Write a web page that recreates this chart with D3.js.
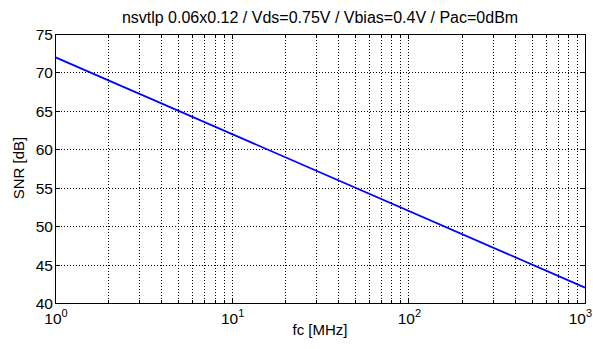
<!DOCTYPE html>
<html><head><meta charset="utf-8">
<script src="https://cdn.jsdelivr.net/npm/d3@7"></script>
<style>
body{margin:0;background:#fff;}
text{font-family:"Liberation Sans",Arial,sans-serif;fill:#000;}
</style></head>
<body><svg id="c" width="593" height="349"></svg>
<script>
const title = "nsvtlp 0.06x0.12 / Vds=0.75V / Vbias=0.4V / Pac=0dBm";
const xLabel = "fc [MHz]";
const yLabel = "SNR [dB]";
const fc = [1, 1000];
const snr = [72, 42];
const xMajor = [1, 10, 100, 1000];
const xExp = [0, 1, 2, 3];
const yTicks = [40, 45, 50, 55, 60, 65, 70, 75];

const W = 593, H = 349;
const m = {l:55, r:585, t:34, b:303};
const svg = d3.select("#c");
svg.append("rect").attr("width",W).attr("height",H).attr("fill","#fff");

const x = d3.scaleLog().domain([1,1000]).range([m.l, m.r]);
const y = d3.scaleLinear().domain([40,75]).range([m.b, m.t]);

const minor = [];
for (let d=1; d<1000; d*=10) for (let k=2;k<=9;k++) minor.push(d*k);
const allX = xMajor.concat(minor);

const g = svg.append("g");
// grid
g.selectAll(".gx").data(allX.filter(v=>v>1&&v<1000)).enter().append("line")
  .attr("x1",d=>Math.round(x(d))+0.5).attr("x2",d=>Math.round(x(d))+0.5)
  .attr("y1",m.t).attr("y2",m.b)
  .attr("stroke","#000").attr("stroke-width",1).attr("stroke-dasharray","1,2");
g.selectAll(".gy").data(yTicks.filter(v=>v>40&&v<75)).enter().append("line")
  .attr("y1",d=>Math.round(y(d))+0.5).attr("y2",d=>Math.round(y(d))+0.5)
  .attr("x1",m.l).attr("x2",m.r)
  .attr("stroke","#000").attr("stroke-width",1).attr("stroke-dasharray","1,2");

// ticks inward on all sides
const tick = (v, len) => {
  const px = Math.round(x(v))+0.5;
  g.append("line").attr("x1",px).attr("x2",px).attr("y1",m.b).attr("y2",m.b-len).attr("stroke","#000");
  g.append("line").attr("x1",px).attr("x2",px).attr("y1",m.t).attr("y2",m.t+len).attr("stroke","#000");
};
xMajor.forEach(v=>tick(v,5));
minor.forEach(v=>tick(v,3));
yTicks.forEach(v=>{
  const py = Math.round(y(v))+0.5;
  g.append("line").attr("x1",m.l).attr("x2",m.l+5).attr("y1",py).attr("y2",py).attr("stroke","#000");
  g.append("line").attr("x1",m.r).attr("x2",m.r-5).attr("y1",py).attr("y2",py).attr("stroke","#000");
});

// box
g.append("rect").attr("x",m.l+0.5).attr("y",m.t+0.5).attr("width",m.r-m.l).attr("height",m.b-m.t)
  .attr("fill","none").attr("stroke","#000").attr("stroke-width",1);

// line
const line = d3.line().x((d,i)=>x(fc[i])).y(d=>y(d));
g.append("path").datum(snr).attr("d",line).attr("fill","none").attr("stroke","#0000ff").attr("stroke-width",1.8);

// y labels
yTicks.forEach(v=>{
  g.append("text").attr("x",m.l-2).attr("y",y(v)+6).attr("text-anchor","end")
    .attr("font-size",15.5).text(v);
});
// x labels
xMajor.forEach((v,i)=>{
  const t = g.append("text").attr("x",x(v)+1).attr("y",m.b+21).attr("text-anchor","middle").attr("font-size",15.5);
  t.append("tspan").text("10");
  t.append("tspan").attr("dy",-7).attr("font-size",11).text(xExp[i]);
  const bb = t.node().getBBox();
  if (bb.x + bb.width > W - 1) t.attr("x", x(v) + 1 - (bb.x + bb.width - (W - 1)));
});

svg.append("text").attr("x",(m.l+m.r)/2).attr("y",23).attr("text-anchor","middle").attr("font-size",16).text(title);
svg.append("text").attr("x",(m.l+m.r)/2).attr("y",335).attr("text-anchor","middle").attr("font-size",15).text(xLabel);
svg.append("text").attr("transform","translate(24,168) rotate(-90)").attr("text-anchor","middle").attr("font-size",15).text(yLabel);
</script></body></html>
